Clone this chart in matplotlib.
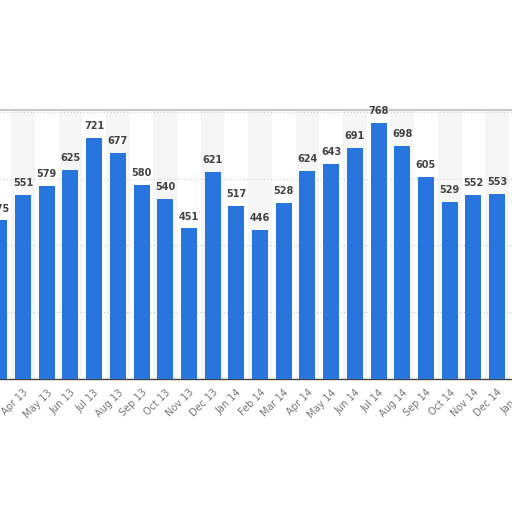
import matplotlib
matplotlib.use("Agg")
import matplotlib.pyplot as plt

months = ["Mar 13", "Apr 13", "May 13", "Jun 13", "Jul 13", "Aug 13", "Sep 13",
          "Oct 13", "Nov 13", "Dec 13", "Jan 14", "Feb 14", "Mar 14", "Apr 14",
          "May 14", "Jun 14", "Jul 14", "Aug 14", "Sep 14", "Oct 14", "Nov 14",
          "Dec 14", "Jan 15"]
values = [475, 551, 579, 625, 721, 677, 580, 540, 451, 621, 517, 446, 528, 624,
          643, 691, 768, 698, 605, 529, 552, 553, 500]

fig = plt.figure(figsize=(5.12, 5.12), dpi=100)
ax = fig.add_axes([0, 0.2598, 1, 0.5254])

x = list(range(len(months)))

# alternating light bands behind the bars
for i in x:
    if i % 2 == 1:
        ax.axvspan(i - 0.5, i + 0.5, color="#f6f6f6", zorder=0, lw=0)

ax.bar(x, values, width=0.675, color="#2876dd", zorder=3)

for i, v in zip(x, values):
    ax.annotate(str(v), (i, v), xytext=(0, 5), textcoords="offset points",
                ha="center", va="bottom", fontsize=7, fontweight="bold",
                color="#444444", annotation_clip=False)

ax.set_xticks(x)
ax.set_xticklabels(months, rotation=45, ha="right", rotation_mode="anchor",
                   fontsize=7, color="#777777")
ax.tick_params(axis="x", length=0, pad=6)

ax.set_yticks([200, 400, 600, 800])
ax.yaxis.grid(True, linestyle=(0, (1, 2)), color="#cccccc", lw=0.8, zorder=1)
ax.tick_params(axis="y", left=False, labelleft=False)

# limits after ticks so the ticks don't widen the view
ax.set_xlim(0.03, 21.63)
ax.set_ylim(0, 806)

# last month sits just past the right edge; its label still peeks in
ax.annotate(months[-1], (x[-1], 0), xytext=(0, -6), textcoords="offset points",
            rotation=45, ha="right", va="top", rotation_mode="anchor",
            fontsize=7, color="#777777", annotation_clip=False)

for s in ["left", "right"]:
    ax.spines[s].set_visible(False)
ax.spines["top"].set_color("#c8c8c8")
ax.spines["top"].set_linewidth(1.5)
ax.spines["bottom"].set_color("#444444")
ax.spines["bottom"].set_linewidth(1)

fig.savefig("out.png", dpi=100)
